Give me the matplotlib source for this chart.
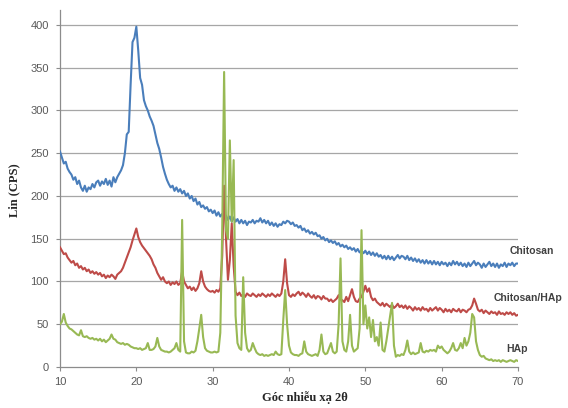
import numpy as np
import matplotlib
matplotlib.use("Agg")
import matplotlib.pyplot as plt

# 2-theta scan grid (step 0.25 deg)
two_theta = np.arange(10.0, 70.001, 0.25)

chitosan = [
    252, 245, 238, 240, 232, 228, 225, 219, 222, 214, 218, 210, 206, 212, 205, 210,
    208, 214, 210, 216, 218, 212, 217, 214, 220, 213, 218, 211, 222, 216, 222, 226,
    230, 236, 250, 272, 275, 330, 380, 385, 398, 370, 338, 330, 312, 305, 300, 293,
    288, 282, 272, 262, 255, 245, 234, 226, 219, 214, 210, 212, 206, 210, 205, 208,
    203, 206, 200, 203, 197, 200, 194, 197, 190, 193, 187, 189, 185, 187, 182, 184,
    180, 183, 177, 181, 176, 179, 174, 177, 172, 176, 170, 175, 170, 173, 168, 172,
    168, 171, 166, 170, 169, 172, 168, 171, 170, 174, 169, 172, 168, 171, 166, 169,
    165, 168, 164, 167, 166, 170, 168, 171, 170, 167, 169, 165, 166, 163, 165, 160,
    162, 158, 160, 156, 158, 155, 157, 153, 154, 150, 152, 148, 150, 146, 148, 145,
    147, 143, 145, 141, 143, 140, 142, 138, 140, 137, 139, 135, 138, 134, 136, 133,
    136, 132, 135, 131, 134, 130, 133, 129, 131, 127, 130, 126, 130, 126, 129, 125,
    128, 131, 127, 130, 129, 126, 130, 125, 128, 124, 127, 123, 126, 122, 125, 121,
    125, 121, 124, 120, 124, 120, 123, 119, 123, 120, 122, 118, 122, 119, 124, 120,
    123, 119, 122, 118, 121, 117, 122, 118, 121, 124, 119, 122, 120, 116, 121, 117,
    120, 123, 118, 121, 117, 121, 116, 120, 118, 122, 117, 121, 119, 122, 118, 121,
    121,
]

chitosan_hap = [
    140, 136, 132, 133, 128, 125, 122, 124, 119, 121, 116, 118, 114, 116, 112, 114,
    110, 112, 109, 111, 108, 110, 106, 108, 104, 107, 105, 108, 106, 103, 108, 110,
    112, 116, 122, 128, 134, 140, 148, 155, 162, 152, 146, 142, 139, 136, 133, 130,
    126, 120, 116, 110, 106, 102, 105, 100, 98, 100, 96, 99, 97, 100, 96, 98,
    112, 100, 96, 92, 94, 90, 93, 89, 92, 98, 112, 100, 94, 91, 89, 88,
    89, 87, 90, 88, 92, 130, 212, 150, 102, 125, 168, 118, 88, 84, 87, 83,
    85, 82, 86, 84, 83, 86, 84, 82, 85, 83, 86, 84, 82, 85, 83, 86,
    84, 82, 85, 83, 86, 100, 126, 98, 84, 82, 85, 83, 86, 88, 84, 87,
    85, 82, 86, 83, 81, 84, 80, 83, 82, 79, 83, 80, 80, 77, 79, 76,
    78, 80, 84, 79, 78, 76, 82, 77, 84, 91, 82, 77, 76, 80, 82, 88,
    95, 88, 92, 82, 78, 80, 76, 74, 72, 75, 71, 74, 72, 70, 73, 69,
    71, 74, 70, 72, 69, 72, 68, 71, 69, 66, 70, 67, 69, 66, 70, 67,
    68, 65, 69, 66, 68, 70, 66, 69, 67, 64, 68, 65, 67, 64, 68, 66,
    65, 68, 64, 67, 66, 64, 67, 68, 72, 80, 74, 67, 65, 67, 63, 66,
    64, 62, 65, 63, 64, 61, 65, 62, 63, 61, 64, 62, 64, 61, 63, 60,
    61,
]

hap = [
    50, 53, 62, 52, 48, 45, 44, 42, 40, 38, 37, 43, 36, 35, 36, 34,
    33, 34, 32, 33, 31, 33, 30, 32, 29, 31, 33, 38, 33, 32, 29, 28,
    27, 28, 26, 27, 26, 24, 23, 22, 22, 21, 22, 20, 21, 22, 28, 20,
    20, 21, 24, 34, 24, 20, 19, 18, 18, 17, 18, 20, 22, 28, 20, 18,
    172, 30, 17, 16, 16, 18, 17, 19, 30, 45, 61, 35, 22, 19, 18, 17,
    17, 18, 17, 18, 40, 160, 345, 160, 150, 265, 170, 242, 60, 28, 22, 20,
    105, 40, 22, 18, 20, 28, 22, 17, 15, 14, 15, 13, 14, 13, 14, 15,
    14, 18, 15, 14, 15, 55, 90, 50, 25, 17, 15, 14, 14, 13, 15, 16,
    30, 18, 15, 14, 13, 14, 15, 13, 20, 38, 18, 15, 16, 22, 28, 18,
    16, 18, 50, 127, 30, 20, 18, 30, 61, 25, 18, 20, 22, 45, 160, 50,
    72, 45, 58, 35, 55, 30, 35, 25, 52, 20, 18, 30, 45, 60, 75, 25,
    12, 14, 13, 15, 14, 20, 31, 18, 15, 17, 15, 16, 17, 28, 18, 17,
    19, 18, 20, 19, 20, 18, 25, 22, 24, 20, 18, 16, 18, 22, 28, 20,
    19, 22, 28, 22, 34, 25, 30, 40, 62, 58, 30, 20, 14, 12, 13, 10,
    9, 8, 9, 7, 8, 7, 8, 6, 8, 7, 6, 7, 8, 7, 6, 8,
    7,
]

series_names = ["Chitosan", "Chitosan/HAp", "HAp"]
x_ticks = [10, 20, 30, 40, 50, 60, 70]
y_ticks = [0, 50, 100, 150, 200, 250, 300, 350, 400]

colors = ["#4A7EBB", "#BE4B48", "#98B954"]

W, H = 568, 408
fig = plt.figure(figsize=(W / 100, H / 100), dpi=100)
ax = fig.add_axes([60 / W, 1 - 367 / H, (518 - 60) / W, (367 - 10) / H])

for yv, c in zip([chitosan, chitosan_hap, hap], colors):
    ax.plot(two_theta, yv, color=c, lw=1.5, solid_joinstyle="round", zorder=3)

ax.set_xlim(10, 70)
ax.set_ylim(0, 417.5)
ax.set_xticks(x_ticks)
ax.set_yticks(y_ticks)
for yv in y_ticks[1:]:
    ax.axhline(yv, color="#A6A6A6", lw=0.9, zorder=1)

for s in ["top", "right"]:
    ax.spines[s].set_visible(False)
for s in ["left", "bottom"]:
    ax.spines[s].set_color("#8C8C8C")
    ax.spines[s].set_linewidth(0.9)

ax.tick_params(axis="both", colors="#8C8C8C", labelcolor="#595959",
               labelsize=8, length=3, width=0.8, direction="out")
for lbl in ax.get_xticklabels() + ax.get_yticklabels():
    lbl.set_fontfamily("Liberation Sans")
ax.tick_params(axis="y", pad=5)
ax.tick_params(axis="x", pad=4)

fig.text(305 / W, 1 - 398 / H, "Góc nhiễu xạ 2θ", ha="center", va="center",
         fontsize=9, fontweight="bold", family="Liberation Serif", color="#262626")
fig.text(14 / W, 1 - 190 / H, "Lin (CPS)", ha="center", va="center", rotation=90,
         fontsize=9, fontweight="bold", family="Liberation Serif", color="#262626")

label_pos = [(532, 251), (528, 298), (517, 349)]
for name, (px, py) in zip(series_names, label_pos):
    fig.text(px / W, 1 - py / H, name, ha="center", va="center", fontsize=7.5,
             fontweight="bold", family="Liberation Sans", color="#404040")

fig.savefig("out.png", dpi=100)
